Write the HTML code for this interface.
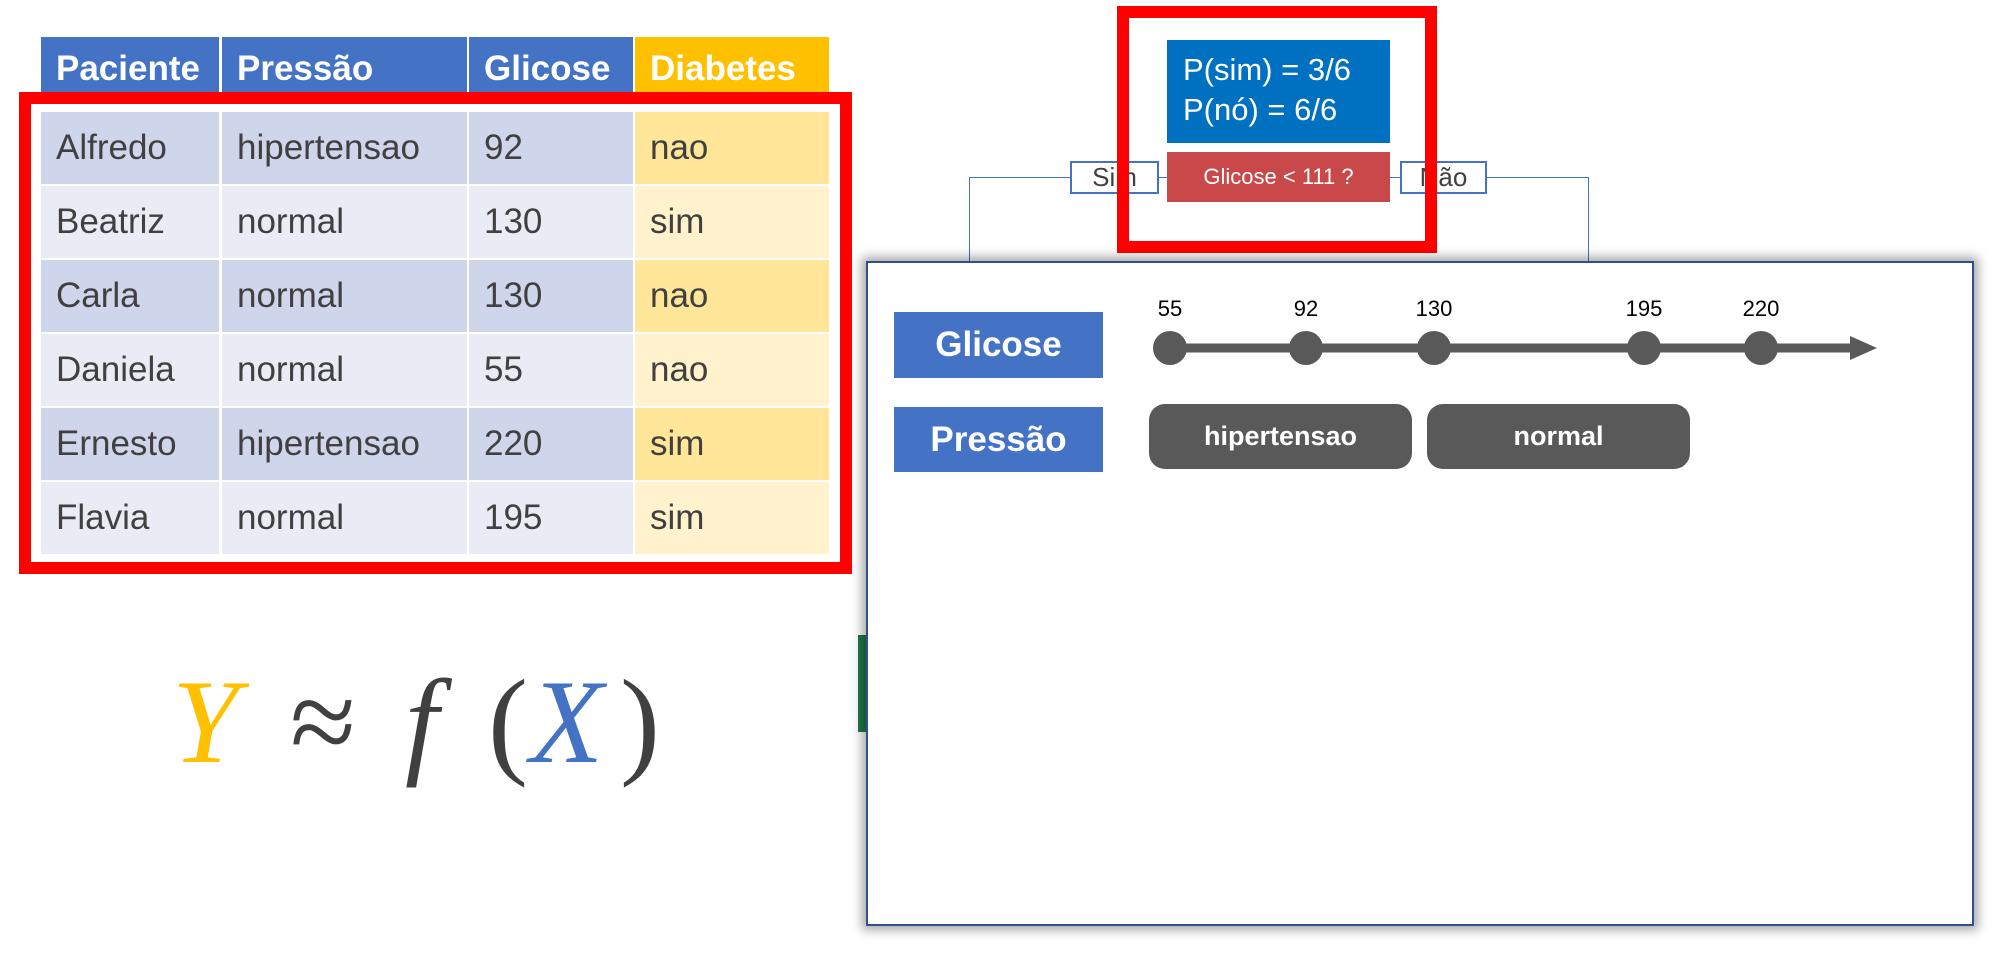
<!DOCTYPE html>
<html><head><meta charset="utf-8"><style>
body{margin:0;width:2000px;height:965px;background:#fff;position:relative;overflow:hidden;font-family:"Liberation Sans",sans-serif}
.a{position:absolute;box-sizing:border-box}
.c{position:absolute;box-sizing:border-box;font-size:35px;color:#404040;padding-left:15px;display:flex;align-items:center}
.h{color:#fff;font-weight:bold;background:#4472C4;padding-top:8px}
.t{display:flex;align-items:center;justify-content:center;color:#fff}
.f{position:absolute;top:662px;font-family:'Liberation Serif',serif;font-size:120px;color:#404040;line-height:1}
</style></head><body>
<!-- table -->
<div class="c h" style="left:41px;top:37px;width:178px;height:55px">Paciente</div>
<div class="c h" style="left:222px;top:37px;width:245px;height:55px">Pressão</div>
<div class="c h" style="left:469px;top:37px;width:164px;height:55px">Glicose</div>
<div class="c h" style="left:635px;top:37px;width:194px;height:55px;background:#FFC000">Diabetes</div>
<div id="rows"></div>
<script>
var d=[["Alfredo","hipertensao","92","nao"],["Beatriz","normal","130","sim"],["Carla","normal","130","nao"],["Daniela","normal","55","nao"],["Ernesto","hipertensao","220","sim"],["Flavia","normal","195","sim"]];
var xs=[[41,178],[222,245],[469,164],[635,194]],h="";
d.forEach(function(r,i){var y=112+i*74;r.forEach(function(v,j){var bg=j==3?(i%2?"#FFF2CC":"#FFE699"):(i%2?"#E9EBF5":"#CFD5EA");h+='<div class="c" style="left:'+xs[j][0]+'px;top:'+y+'px;width:'+xs[j][1]+'px;height:72px;background:'+bg+'">'+v+'</div>';});});
document.getElementById("rows").innerHTML=h;
</script>
<div class="a" style="left:19px;top:92px;width:833px;height:482px;border:12px solid #f00"></div>
<!-- formula -->
<div class="f" style="left:172px;font-style:italic;color:#FFC000">Y</div>
<div class="f" style="left:290px">≈</div>
<div class="f" style="left:405px;font-style:italic">f</div>
<div class="f" style="left:488px">(</div>
<div class="f" style="left:530px;font-style:italic;color:#4472C4">X</div>
<div class="f" style="left:620px">)</div>
<!-- tree -->
<div class="a" style="left:969px;top:177px;width:101px;height:84px;border-left:1px solid #4472C4;border-top:1px solid #4472C4"></div>
<div class="a" style="left:1487px;top:177px;width:102px;height:84px;border-right:1px solid #4472C4;border-top:1px solid #4472C4"></div>
<div class="a" style="left:1159px;top:177px;width:8px;border-top:1px solid #4472C4"></div>
<div class="a" style="left:1390px;top:177px;width:10px;border-top:1px solid #4472C4"></div>
<div class="a t" style="left:1070px;top:161px;width:89px;height:33px;border:2px solid #4472C4;color:#404040;font-size:26px">Sim</div>
<div class="a t" style="left:1400px;top:161px;width:87px;height:33px;border:2px solid #4472C4;color:#404040;font-size:26px">Não</div>
<div class="a" style="left:1167px;top:40px;width:223px;height:103px;background:#0070C0;color:#fff;font-size:31px;padding:10px 0 0 16px;line-height:40px">P(sim) = 3/6<br>P(nó) = 6/6</div>
<div class="a t" style="left:1167px;top:152px;width:223px;height:50px;background:#C9484A;font-size:22px">Glicose &lt; 111 ?</div>
<div class="a" style="left:1117px;top:6px;width:320px;height:247px;border:12px solid #f00"></div>
<!-- panel -->
<div class="a" style="left:858px;top:635px;width:8px;height:97px;background:#1E7B4A"></div>
<div class="a" style="left:866px;top:261px;width:1108px;height:665px;border:2px solid #2F4F8F;background:#fff;box-shadow:0 0 10px 4px rgba(0,0,0,.35)"></div>
<div class="a t" style="left:894px;top:312px;width:209px;height:66px;background:#4472C4;font-weight:bold;font-size:35px">Glicose</div>
<div class="a t" style="left:894px;top:407px;width:209px;height:65px;background:#4472C4;font-weight:bold;font-size:35px">Pressão</div>
<svg class="a" style="left:0;top:0" width="2000" height="965">
<line x1="1170" y1="348" x2="1855" y2="348" stroke="#595959" stroke-width="9"/>
<polygon points="1850,336 1877,348 1850,360" fill="#595959"/>
<g fill="#595959"><circle cx="1170" cy="348" r="17"/><circle cx="1306" cy="348" r="17"/><circle cx="1434" cy="348" r="17"/><circle cx="1644" cy="348" r="17"/><circle cx="1761" cy="348" r="17"/></g>
<g font-family="Liberation Sans" font-size="22" fill="#000" text-anchor="middle"><text x="1170" y="316">55</text><text x="1306" y="316">92</text><text x="1434" y="316">130</text><text x="1644" y="316">195</text><text x="1761" y="316">220</text></g>
</svg>
<div class="a t" style="left:1149px;top:404px;width:263px;height:65px;background:#595959;border-radius:16px;font-weight:bold;font-size:27px">hipertensao</div>
<div class="a t" style="left:1427px;top:404px;width:263px;height:65px;background:#595959;border-radius:16px;font-weight:bold;font-size:27px">normal</div>
</body></html>
